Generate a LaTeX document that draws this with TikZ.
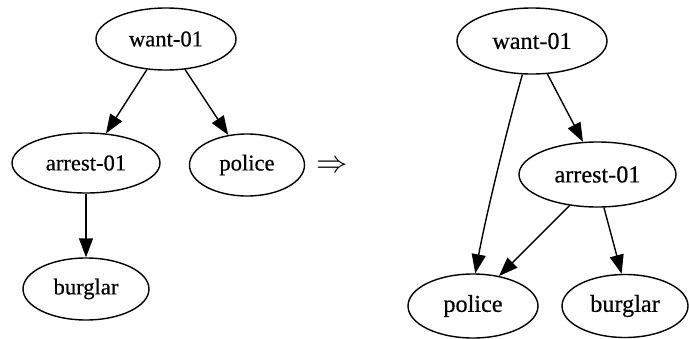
\documentclass[tikz,border=0pt]{standalone}
\usepackage{graphicx}
\usepackage{fontspec}
\setmainfont{Liberation Serif}[BoldFont={Liberation Serif},BoldFeatures={FakeBold=0.5}]
\usetikzlibrary{shapes.geometric,arrows.meta}
\begin{document}
\begin{tikzpicture}[x=1pt,y=-1pt,
  concept/.style={draw,ellipse,inner sep=0pt,line width=1.4pt},
  small/.style={font=\fontsize{22.6}{24}\selectfont\bfseries},
  large/.style={font=\fontsize{24.2}{26}\selectfont\bfseries},
  edge/.style={line width=1.4pt,-{Triangle[length=19pt,width=14pt]}}]
\useasboundingbox (0,0) rectangle (689,338);
% original graph
\node[concept,small,minimum width=140pt,minimum height=62pt] (lwant) at (166,39) {want-01};
\node[concept,small,minimum width=148pt,minimum height=60pt] (larrest) at (86,163) {arrest-01};
\node[concept,small,minimum width=115pt,minimum height=62pt] (lpolice) at (247,165) {police};
\node[concept,small,minimum width=126pt,minimum height=62pt] (lburglar) at (86,289) {burglar};
\draw[edge] (lwant.238) -- (larrest.56);
\draw[edge] (lwant.302) -- (lpolice.122);
\draw[edge] (larrest.270) -- (lburglar.90);
% implication sign
\node (imp) at (332,167) {\scalebox{1.26}{\fontsize{24.88}{26}\selectfont$\Rightarrow$}};
% transformed graph
\node[concept,large,minimum width=150pt,minimum height=66pt] (rwant) at (532,41) {want-01};
\node[concept,large,minimum width=157pt,minimum height=65pt] (rarrest) at (597.5,174.5) {arrest-01};
\node[concept,large,minimum width=130pt,minimum height=64pt] (rpolice) at (473,306) {police};
\node[concept,large,minimum width=126pt,minimum height=63pt] (rburglar) at (625,306) {burglar};
\draw[edge] (rwant.254) .. controls (508,125) and (486,215) .. (rpolice.86);
\draw[edge] (rwant.295) -- (rarrest.114);
\draw[edge] (rarrest.228) -- (rpolice.49);
\draw[edge] (rarrest.281) -- (rburglar.96);
\end{tikzpicture}
\end{document}
